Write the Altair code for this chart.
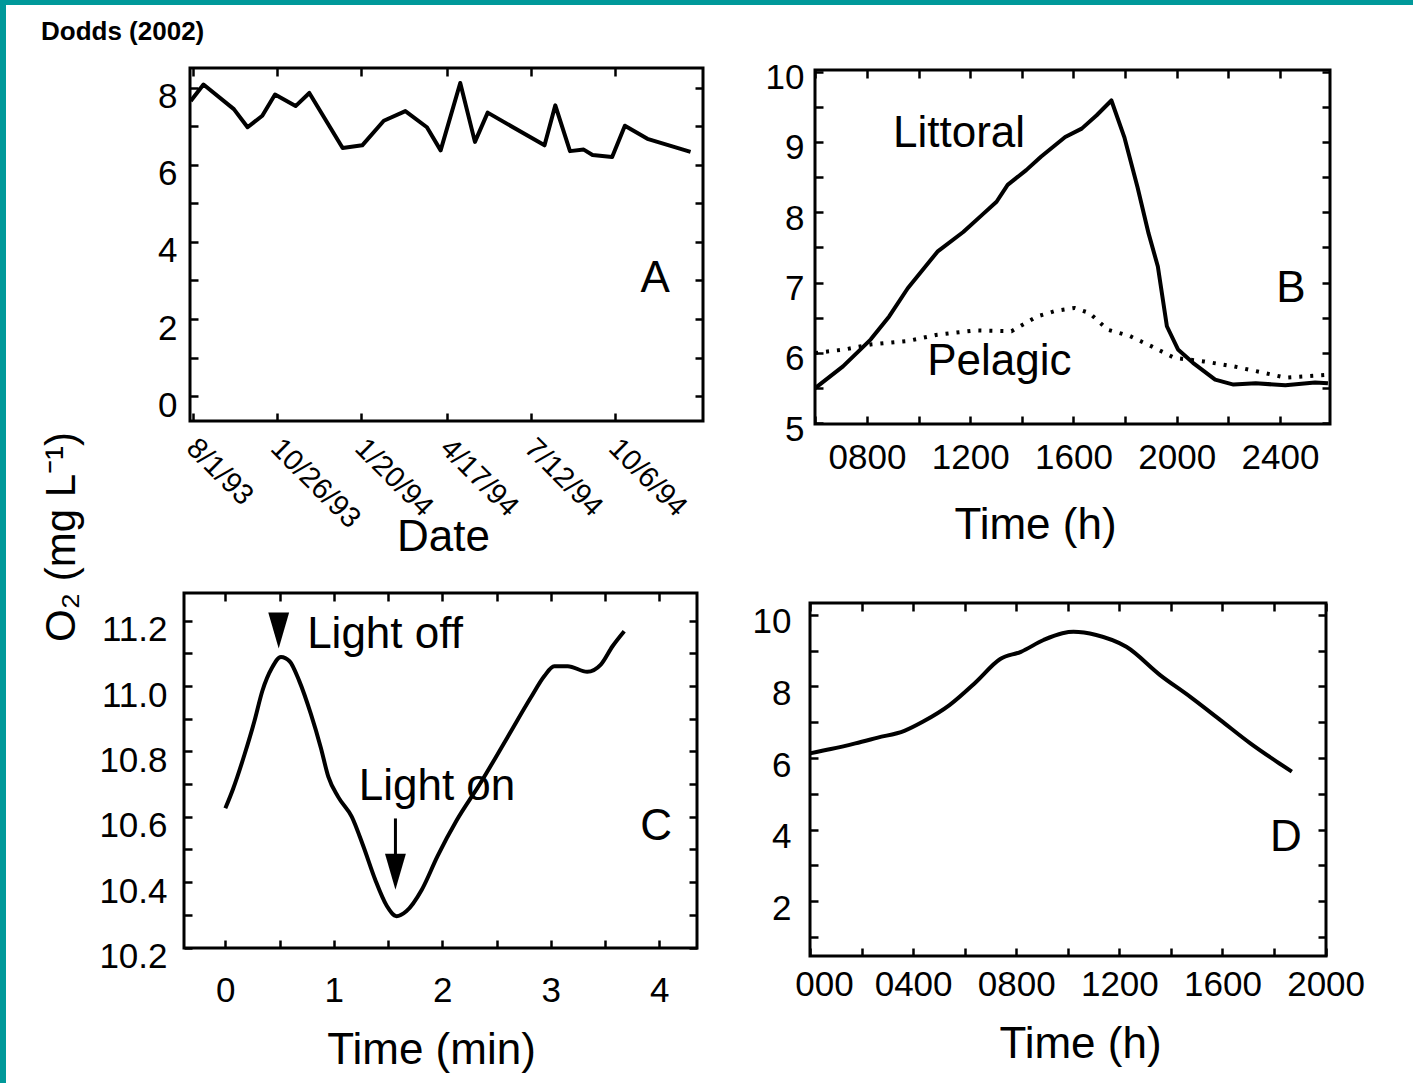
import altair as alt
import pandas as pd

FONT = "Liberation Sans"
TEAL = "#00999a"

# ---------------- Panel A : O2 by date ----------------
a_dates = ["1993-07-30", "1993-08-12", "1993-09-12", "1993-09-26", "1993-10-11",
           "1993-10-24", "1993-11-14", "1993-11-28", "1994-01-01", "1994-01-21",
           "1994-02-12", "1994-03-06", "1994-03-28", "1994-04-11", "1994-05-01",
           "1994-05-16", "1994-05-29", "1994-07-26", "1994-08-06", "1994-08-21",
           "1994-09-04", "1994-09-13", "1994-10-03", "1994-10-16", "1994-11-08",
           "1994-12-22"]
a_o2 = [7.66, 8.09, 7.45, 6.98, 7.28, 7.83, 7.53, 7.87, 6.44, 6.51,
        7.15, 7.40, 6.98, 6.38, 8.13, 6.60, 7.36, 6.51, 7.55, 6.36,
        6.40, 6.26, 6.21, 7.02, 6.68, 6.34]
a_tick_dates = [(1993, 8, 1), (1993, 10, 26), (1994, 1, 20), (1994, 4, 17),
                (1994, 7, 12), (1994, 10, 6)]
a_y_ticks = [0, 1, 2, 3, 4, 5, 6, 7, 8]

# ---------------- Panel B : littoral / pelagic ----------------
b_lit_hour = [5.99, 7.07, 8.14, 8.86, 9.58, 10.73, 11.73, 12.45, 13.02, 13.45,
              14.17, 14.74, 15.68, 16.32, 16.90, 17.47, 17.97, 18.48, 18.91,
              19.27, 19.62, 20.05, 20.63, 21.49, 22.20, 23.06, 24.21, 25.36, 25.86]
b_lit_o2 = [5.50, 5.81, 6.19, 6.52, 6.92, 7.44, 7.72, 7.96, 8.15, 8.39,
            8.60, 8.79, 9.07, 9.19, 9.38, 9.59, 9.07, 8.36, 7.70,
            7.23, 6.38, 6.05, 5.86, 5.62, 5.55, 5.57, 5.54, 5.58, 5.57]
b_pel_hour = [5.99, 7.14, 8.14, 9.58, 10.73, 12.16, 13.60, 14.60, 15.32, 16.04,
              16.61, 17.33, 18.19, 19.05, 19.91, 21.06, 22.20, 23.35, 24.21,
              25.07, 25.86]
b_pel_o2 = [6.00, 6.05, 6.12, 6.17, 6.26, 6.32, 6.31, 6.52, 6.60, 6.64,
            6.57, 6.33, 6.24, 6.09, 5.93, 5.88, 5.81, 5.72, 5.65, 5.67, 5.69]
b_x_ticks = [6, 8, 10, 12, 14, 16, 18, 20, 22, 24]
b_y_ticks = [5, 5.5, 6, 6.5, 7, 7.5, 8, 8.5, 9, 9.5, 10]

# ---------------- Panel C : light on / off ----------------
c_min = [0.0, 0.072, 0.179, 0.269, 0.341, 0.430, 0.513, 0.592, 0.681, 0.789,
         0.879, 0.950, 1.040, 1.166, 1.273, 1.381, 1.489, 1.578, 1.668, 1.811,
         1.955, 2.134, 2.349, 2.600, 2.816, 2.941, 3.031, 3.156, 3.336, 3.461,
         3.569, 3.677]
c_o2 = [10.626, 10.686, 10.793, 10.894, 10.985, 11.056, 11.089, 11.076, 11.016,
        10.914, 10.813, 10.722, 10.661, 10.600, 10.509, 10.408, 10.327, 10.296,
        10.311, 10.377, 10.479, 10.590, 10.702, 10.843, 10.965, 11.031, 11.061,
        11.061, 11.044, 11.066, 11.122, 11.168]
c_x_ticks = [0, 0.5, 1, 1.5, 2, 2.5, 3, 3.5, 4]
c_y_ticks = [10.2, 10.3, 10.4, 10.5, 10.6, 10.7, 10.8, 10.9, 11.0, 11.1, 11.2]
c_marker_min = [0.492, 1.568]
c_marker_o2 = [11.170, 10.432]

# ---------------- Panel D ----------------
d_hour = [0.0, 0.81, 1.76, 2.63, 3.66, 4.39, 5.41, 6.43, 7.38, 8.18, 9.06,
          9.79, 10.22, 11.10, 12.27, 13.58, 14.75, 15.92, 17.08, 18.10, 18.69]
d_o2 = [6.13, 6.25, 6.41, 6.57, 6.76, 7.02, 7.48, 8.12, 8.77, 8.97, 9.30,
        9.49, 9.53, 9.44, 9.11, 8.32, 7.71, 7.06, 6.41, 5.90, 5.62]
d_x_ticks = [0, 2, 4, 6, 8, 10, 12, 14, 16, 18, 20]
d_y_ticks = [1, 2, 3, 4, 5, 6, 7, 8, 9, 10]

ONE = pd.DataFrame({"k": [0]})


def dt(y, m, d, h=0):
    return alt.DateTime(year=y, month=m, date=d, hours=h, utc=True)


def axis(orient, offset, values, labels=True, **kw):
    spec = dict(orient=orient, offset=offset, values=values, domain=False, grid=False,
                ticks=True, tickSize=8, tickWidth=2.5, tickColor="black", zindex=1,
                labels=labels, labelFlush=False, labelOverlap=False, labelColor="black",
                labelFont=FONT, labelFontSize=35, title="", titleFont=FONT,
                titleFontSize=44, titleFontWeight="normal", titleColor="black")
    spec.update(kw)
    return alt.Axis(**spec)


def frame(x0, x1, y0, y1):
    return alt.Chart(ONE).mark_rect(fillOpacity=0, stroke="black", strokeWidth=3).encode(
        x=alt.value(x0), x2=alt.value(x1), y=alt.value(y0), y2=alt.value(y1))


def letters(df, x, y, xs, ys, size=44):
    return alt.Chart(df).mark_text(fontSize=size, font=FONT, color="black",
                                   align="center", baseline="middle").encode(
        x=alt.X(x, scale=xs, axis=None), y=alt.Y(y, scale=ys, axis=None), text="t:N")


EVENLBL = "datum.value % 2 == 0 ? format(datum.value, 'd') : ''"
INTLBL = "datum.value % 1 == 0 ? format(datum.value, 'd') : ''"
HOURLBL = ("datum.value % 4 == 0 ? (datum.value < 10 ? '0' + datum.value + '00' : "
           "datum.value + '00') : ''")

# ======== Panel A ========
A_W, A_H = 519, 356
xA = alt.Scale(type="utc", domain=[dt(1993, 7, 23, 3), dt(1995, 1, 3, 17)])
yA = alt.Scale(domain=[-0.727, 8.519])
a_xvals = [dt(*d) for d in a_tick_dates]
a_df = pd.DataFrame({"date": a_dates, "o2": a_o2})

teal = alt.Chart(ONE).mark_rect(color=TEAL).encode(
    x=alt.value(-184), x2=alt.value(1229), y=alt.value(-68), y2=alt.value(1015))
white = alt.Chart(ONE).mark_rect(color="white").encode(
    x=alt.value(-178), x2=alt.value(1229), y=alt.value(-63), y2=alt.value(1015))
main_title = alt.Chart(ONE).mark_text(text="Dodds (2002)", font=FONT, fontSize=26,
                                      fontWeight="bold", align="left",
                                      baseline="alphabetic", color="black").encode(
    x=alt.value(-143), y=alt.value(-28))
y_title = alt.Chart(ONE).mark_text(text="O₂ (mg L⁻¹)", font=FONT, fontSize=42,
                                   angle=270, align="center", baseline="middle",
                                   color="black").encode(
    x=alt.value(-122), y=alt.value(469))

a_line = alt.Chart(a_df).mark_line(color="black", strokeWidth=4, strokeJoin="round").encode(
    x=alt.X("date:T", scale=xA,
            axis=axis("bottom", -11, a_xvals,
                      labelExpr="utcFormat(datum.value, '%-m/%-d/%y')",
                      labelAngle=45, labelAlign="left", labelBaseline="top",
                      labelPadding=12, labelOffset=8, labelFontSize=29,
                      title="Date", titleX=259, titleY=137, titleAlign="center",
                      titleBaseline="alphabetic")),
    y=alt.Y("o2:Q", scale=yA,
            axis=axis("left", -14, a_y_ticks, labelExpr=EVENLBL, labelPadding=13,
                      labelOffset=9)))
a_mirror = alt.Chart(a_df).mark_line(strokeOpacity=0).encode(
    x=alt.X("date:T", scale=xA, axis=axis("top", -8, a_xvals, labels=False)),
    y=alt.Y("o2:Q", scale=yA, axis=axis("right", -8, a_y_ticks, labels=False)))
a_lab = letters(pd.DataFrame({"date": ["1994-11-16"], "o2": [3.03], "t": ["A"]}),
                "date:T", "o2:Q", xA, yA)
panelA = alt.layer(teal, white, main_title, y_title, frame(6, 519, 0, 353),
                   a_line, a_lab, a_mirror).properties(width=A_W, height=A_H)

# ======== Panel B ========
B_W, B_H = 520, 356
xB = alt.Scale(domain=[5.792, 25.94])
yB = alt.Scale(domain=[4.99, 10.052])
b_lit = pd.DataFrame({"hour": b_lit_hour, "o2": b_lit_o2})
b_pel = pd.DataFrame({"hour": b_pel_hour, "o2": b_pel_o2})
b_line = alt.Chart(b_lit).mark_line(color="black", strokeWidth=4, strokeJoin="round").encode(
    x=alt.X("hour:Q", scale=xB,
            axis=axis("bottom", -8, b_x_ticks, labelExpr=HOURLBL, labelPadding=16,
                      title="Time (h)", titleX=225, titleY=122, titleAlign="center",
                      titleBaseline="alphabetic")),
    y=alt.Y("o2:Q", scale=yB,
            axis=axis("left", -13, b_y_ticks, labelExpr=INTLBL,
                      labelPadding=11, labelOffset=6)))
b_dot = alt.Chart(b_pel).mark_line(color="black", strokeWidth=4, strokeDash=[3, 8]).encode(
    x=alt.X("hour:Q", scale=xB, axis=None), y=alt.Y("o2:Q", scale=yB, axis=None))
b_mirror = alt.Chart(b_lit).mark_line(strokeOpacity=0).encode(
    x=alt.X("hour:Q", scale=xB, axis=axis("top", -10, b_x_ticks, labels=False)),
    y=alt.Y("o2:Q", scale=yB, axis=axis("right", -8, b_y_ticks, labels=False)))
b_lab = letters(pd.DataFrame({"hour": [11.565, 13.13, 24.43], "o2": [9.114, 5.865, 6.91],
                              "t": ["Littoral", "Pelagic", "B"]}),
                "hour:Q", "o2:Q", xB, yB)
panelB = alt.layer(frame(5, 520, 2, 356), b_line, b_dot, b_lab, b_mirror).properties(
    width=B_W, height=B_H)

# ======== Panel C ========
C_W, C_H = 519, 363
xC = alt.Scale(domain=[-0.381, 4.403])
yC = alt.Scale(domain=[10.174, 11.285])
c_df = pd.DataFrame({"min": c_min, "o2": c_o2})
c_line = alt.Chart(c_df).mark_line(color="black", strokeWidth=4, interpolate="monotone").encode(
    x=alt.X("min:Q", scale=xC,
            axis=axis("bottom", -16, c_x_ticks, labelExpr=INTLBL,
                      labelPadding=25, title="Time (min)", titleX=247, titleY=123,
                      titleAlign="center", titleBaseline="alphabetic")),
    y=alt.Y("o2:Q", scale=yC,
            axis=axis("left", -8, c_y_ticks,
                      labelExpr="round(datum.value * 10) % 2 == 0 ? format(datum.value, '.1f') : ''",
                      labelPadding=17, labelOffset=9)))
c_mirror = alt.Chart(c_df).mark_line(strokeOpacity=0).encode(
    x=alt.X("min:Q", scale=xC, axis=axis("top", -8, c_x_ticks, labels=False)),
    y=alt.Y("o2:Q", scale=yC, axis=axis("right", -14, c_y_ticks, labels=False)))
c_tri = alt.Chart(pd.DataFrame({"min": c_marker_min, "o2": c_marker_o2})).mark_point(
    shape="M-0.58,-1L0.58,-1L0,1Z", size=1296, filled=True, color="black", opacity=1,
    strokeWidth=0).encode(
    x=alt.X("min:Q", scale=xC, axis=None), y=alt.Y("o2:Q", scale=yC, axis=None))
c_stem = alt.Chart(pd.DataFrame({"min": [1.568], "o2": [10.595], "o2b": [10.462]})).mark_rule(
    color="black", strokeWidth=3).encode(
    x=alt.X("min:Q", scale=xC, axis=None), y=alt.Y("o2:Q", scale=yC, axis=None), y2="o2b:Q")
c_lab = letters(pd.DataFrame({"min": [1.472, 1.951, 3.970], "o2": [11.155, 10.690, 10.569],
                              "t": ["Light off", "Light on", "C"]}),
                "min:Q", "o2:Q", xC, yC)
panelC = alt.layer(frame(0, 513, 0, 355), c_line, c_stem, c_tri, c_lab, c_mirror).properties(
    width=C_W, height=C_H)

# ======== Panel D ========
D_W, D_H = 520, 363
xD = alt.Scale(domain=[0, 20.17])
yD = alt.Scale(domain=[0.462, 10.615])
d_df = pd.DataFrame({"hour": d_hour, "o2": d_o2})
d_line = alt.Chart(d_df).mark_line(color="black", strokeWidth=4, interpolate="monotone").encode(
    x=alt.X("hour:Q", scale=xD,
            axis=axis("bottom", -8, d_x_ticks,
                      labelExpr="datum.value == 0 ? '000' : (" + HOURLBL + ")",
                      labelPadding=11,
                      labelOffset={"condition": {"test": "datum.value == 0", "value": 14},
                                   "value": 0},
                      title="Time (h)", titleX=270, titleY=109, titleAlign="center",
                      titleBaseline="alphabetic")),
    y=alt.Y("o2:Q", scale=yD,
            axis=axis("left", -8, d_y_ticks, labelExpr=EVENLBL, labelPadding=19,
                      labelOffset=7)))
d_mirror = alt.Chart(d_df).mark_line(strokeOpacity=0).encode(
    x=alt.X("hour:Q", scale=xD, axis=axis("top", -18, d_x_ticks, labels=False)),
    y=alt.Y("o2:Q", scale=yD, axis=axis("right", -12, d_y_ticks, labels=False)))
d_lab = letters(pd.DataFrame({"hour": [18.46], "o2": [3.75], "t": ["D"]}),
                "hour:Q", "o2:Q", xD, yD)
panelD = alt.layer(frame(0, 516, 10, 363), d_line, d_lab, d_mirror).properties(
    width=D_W, height=D_H)

chart = alt.concat(panelA, panelB, panelC, panelD, columns=2,
                   spacing={"row": 169, "column": 107}, bounds="flush",
                   align="each").properties(padding=0, background=TEAL).configure(
    font=FONT).configure_view(strokeWidth=0)

chart.save("out.html", embed_options={"renderer": "svg", "actions": False})
